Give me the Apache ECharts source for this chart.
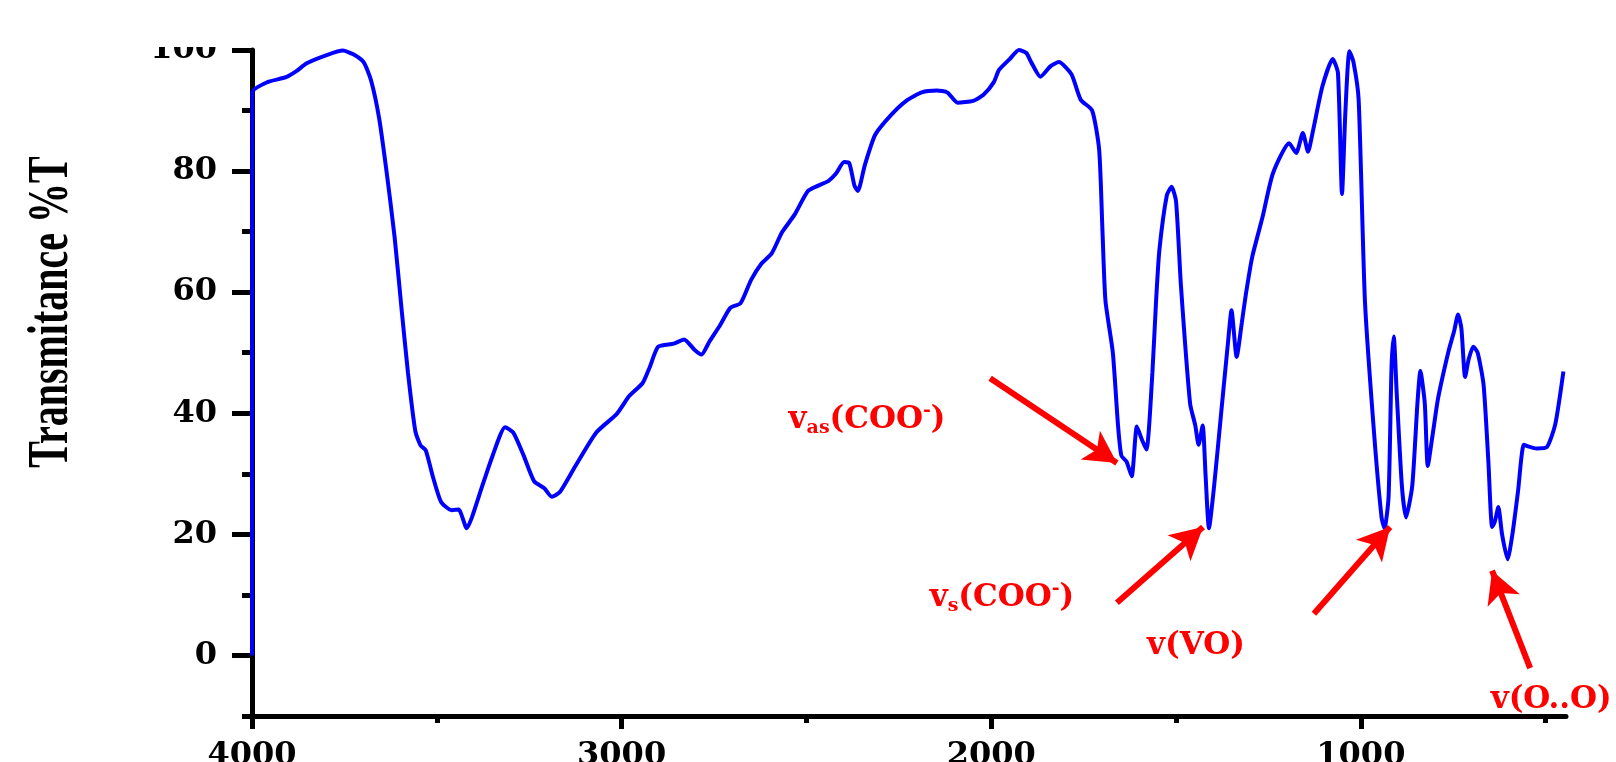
<!DOCTYPE html>
<html><head><meta charset="utf-8">
<script src="https://cdn.jsdelivr.net/npm/echarts@6/dist/echarts.min.js"></script>
<style>html,body{margin:0;padding:0;background:#fff}#c{width:1616px;height:762px}</style>
</head><body><div id="c"></div>
<script>
// Wavenumber (cm-1) and transmittance (%T)
const wavenumbers = [4000,3999,3958,3908,3880,3852,3796,3754,3726,3698,3678,3656,3634,3614,3595,3578,3558,3544,3530,3511,3488,3460,3441,3419,3405,3377,3349,3315,3293,3265,3237,3209,3189,3167,3125,3069,3013,2980,2943,2924,2901,2859,2831,2803,2784,2762,2734,2706,2678,2650,2622,2594,2566,2532,2496,2468,2440,2420,2398,2384,2370,2361,2342,2314,2272,2230,2188,2147,2119,2091,2049,2021,1993,1979,1950,1925,1905,1892,1867,1840,1817,1783,1758,1727,1708,1699,1691,1671,1657,1648,1634,1620,1606,1592,1580,1564,1554,1545,1525,1512,1500,1487,1462,1448,1439,1428,1420,1411,1397,1378,1359,1350,1336,1322,1311,1294,1266,1238,1194,1175,1157,1143,1129,1104,1076,1062,1051,1042,1031,1020,1006,989,964,944,936,925,917,911,903,889,878,861,847,839,827,819,805,791,763,748,737,728,718,708,696,684,668,655,645,638,628,618,603,590,575,559,545,525,497,474,452];
const transmittance = [0,93,94.7,95.5,96.5,97.8,99.2,99.9,99.3,98,95,88.7,79,69,57,46.7,37,34.7,33.9,29.6,25.3,24,24.1,21,22.8,28,33,37.7,36.8,33,28.8,27.6,26.2,27,31.3,36.8,39.9,42.8,45,47.6,51,51.5,52.2,50.5,49.7,51.9,54.5,57.4,58.2,62,64.7,66.4,69.9,72.8,76.7,77.6,78.4,79.6,81.5,81.3,77.6,76.7,81,86,89.2,91.6,93,93.3,93,91.3,91.6,92.6,94.7,96.7,98.5,100,99.5,98,95.6,97.3,98,96,91.8,90,83.5,70,58.6,50,38,33,32,29.6,37.8,35.6,34,46.7,58.6,67,76,77.4,75,61.3,41.6,38,34.8,38,29.6,21,28,40,52,57,49.3,55,59.7,65.8,72.4,79.6,84.6,83,86.3,83.2,86.8,94,98.5,96.2,76.2,89.6,99.8,98,91.8,58.6,36.5,22.8,21,26.2,47.6,52.7,43.3,28,22.8,28,41.6,47,41.6,31.3,36.8,42.5,50.2,53.5,56.3,54,46,49,51,50,44.7,32,21.2,22,24.5,20,15.9,20,27,34.8,34.5,34.2,34.4,38.2,46.9];

const xMajorTicks = [4000,3000,2000,1000];
const xMinorTicks = [3500,2500,1500,500];
const yMajorTicks = [0,20,40,60,80,100];
const yMinorTicks = [-10,10,30,50,70,90];

// Annotation arrows (data coordinates: from -> to)
const arrowFrom = [[2003,45.8],[1660,8.7],[1127,6.9],[542,-2.1]];
const arrowTo   = [[1660,31.8],[1427,21.2],[921,21.2],[645,14.0]];
// Annotation labels
const labelTexts = ['{m|v}{sub|as}{m|(COO}{sup|-}{m|)}','{m|v}{sub|s}{m|(COO}{sup|-}{m|)}','{m|v(VO)}','{m|v(O..O)}'];
const labelPos = [[2336,38.9],[1971,9.5],[1446,1.6],[485,-7.3]];

const chart = echarts.init(document.getElementById('c'));
const red = '#FF0000';
const tickFont = {fontFamily:'DejaVu Serif', fontWeight:'bold', fontSize:32, color:'#000', formatter:(v)=>String(v)};

const option = {
  animation:false,
  backgroundColor:'#fff',
  grid:{left:252, right:50, top:50, bottom:46, containLabel:false, outerBoundsMode:'none'},
  xAxis:[
    {type:'value', inverse:true, min:445, max:4000, position:'bottom',
     axisLine:{show:true, onZero:false, lineStyle:{color:'#000', width:5}},
     axisTick:{show:true, length:13, customValues:xMajorTicks, lineStyle:{color:'#000', width:5}},
     axisLabel:Object.assign({customValues:xMajorTicks, margin:24}, tickFont),
     splitLine:{show:false}},
    {type:'value', inverse:true, min:445, max:4000, position:'bottom',
     axisLine:{show:false, onZero:false},
     axisTick:{show:true, length:7, customValues:xMinorTicks, lineStyle:{color:'#000', width:5}},
     axisLabel:{show:false}, splitLine:{show:false}}
  ],
  yAxis:[
    {type:'value', min:-10, max:100, position:'left',
     axisLine:{show:true, onZero:false, lineStyle:{color:'#000', width:5}},
     axisTick:{show:true, length:20, customValues:yMajorTicks, lineStyle:{color:'#000', width:5}},
     axisLabel:Object.assign({customValues:yMajorTicks, margin:35}, tickFont),
     splitLine:{show:false}},
    {type:'value', min:-10, max:100, position:'left',
     axisLine:{show:false, onZero:false},
     axisTick:{show:true, length:10, customValues:yMinorTicks, lineStyle:{color:'#000', width:5}},
     axisLabel:{show:false}, splitLine:{show:false}}
  ],
  graphic:[
    {type:'text', x:52, y:312, rotation:Math.PI/2, scaleY:1.45, z:10,
     style:{text:'Transmitance %T', fontFamily:'Liberation Serif', fontWeight:'bold', fontSize:40, fill:'#000', align:'center', verticalAlign:'middle'}},
    {type:'rect', x:0, y:0, shape:{width:240, height:47}, style:{fill:'#fff'}, z:100}
  ],
  series:[{
    type:'line', xAxisIndex:0, yAxisIndex:0,
    data: wavenumbers.map((w,i)=>[w, transmittance[i]]),
    showSymbol:false, smooth:0.2,
    lineStyle:{color:'#0000FF', width:4},
    markLine:{
      silent:true, symbol:['none','arrow'], symbolSize:[26,32],
      lineStyle:{color:red, width:6, type:'solid'},
      label:{show:false},
      data: arrowFrom.map((f,i)=>[{coord:f},{coord:arrowTo[i]}])
    },
    markPoint:{
      silent:true, symbol:'circle', symbolSize:0,
      label:{show:true, position:'inside',
        rich:{
          m:{fontFamily:'DejaVu Serif', fontWeight:'bold', fontSize:31, color:red, lineHeight:36},
          sub:{fontFamily:'DejaVu Serif', fontWeight:'bold', fontSize:19, color:red, lineHeight:14, verticalAlign:'bottom'},
          sup:{fontFamily:'DejaVu Serif', fontWeight:'bold', fontSize:19, color:red, lineHeight:14, verticalAlign:'top'}
        }},
      data: labelPos.map((p,i)=>({coord:p, label:{formatter:labelTexts[i]}}))
    }
  }]
};
chart.setOption(option);
</script></body></html>
